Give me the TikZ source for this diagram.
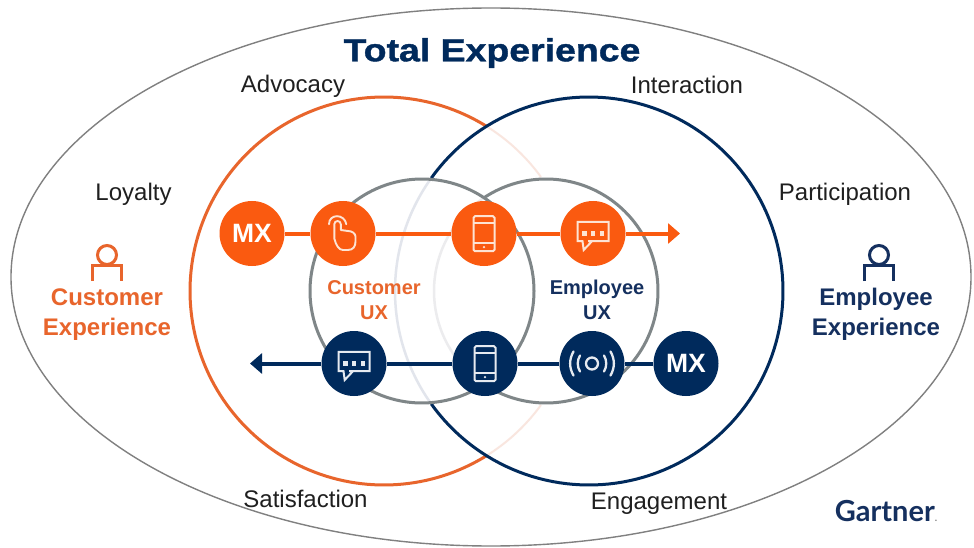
\documentclass[tikz,border=0pt]{standalone}
\usepackage{fontspec}
\setmainfont{Liberation Sans}
\newfontfamily\titlefont[FakeStretch=1.17,FakeBold=1.2]{Liberation Sans Bold}
\newfontfamily\logofont{Lato}
\usetikzlibrary{arrows.meta}
\definecolor{orangeNode}{HTML}{FA5A10}
\definecolor{orangeRing}{HTML}{E8652C}
\definecolor{orangeText}{HTML}{E8652C}
\definecolor{navyNode}{HTML}{002A5C}
\definecolor{navyText}{HTML}{15305F}
\definecolor{grayRing}{HTML}{7F8688}
\definecolor{fadeOrange}{HTML}{F9E6DF}
\definecolor{fadeNavy}{HTML}{E2E5EC}
\definecolor{fadeGray}{HTML}{ECECEE}
\definecolor{iconOrange}{HTML}{FDE3D3}
\definecolor{iconNavy}{HTML}{E6EAF0}
\newcommand{\ringarc}[6]{% style, cx, cy, r, from, to
  \draw[#1] plot[domain=#5:#6,samples=140] ({#2+#4*cos(\x)},{#3+#4*sin(\x)});}
\tikzset{
  x=1pt,y=-1pt,
  ring/.style={line width=3pt},
  dotnode/.style={circle,minimum size=65pt,inner sep=0pt,text=white,
    font=\bfseries\fontsize{26.5}{28}\selectfont},
  onode/.style={dotnode,fill=orangeNode},
  nnode/.style={dotnode,fill=navyNode},
  oline/.style={line width=4pt,draw=orangeNode},
  nline/.style={line width=4pt,draw=navyNode},
  label/.style={text=black!88,font=\fontsize{24}{28}\selectfont},
  bigo/.style={align=center,text=orangeText,font=\bfseries\fontsize{24}{30}\selectfont},
  bign/.style={align=center,text=navyText,font=\bfseries\fontsize{24}{30}\selectfont},
  smallo/.style={align=center,text=orangeText,font=\bfseries\fontsize{20}{24.5}\selectfont},
  smalln/.style={align=center,text=navyText,font=\bfseries\fontsize{20}{24.5}\selectfont},
  pics/phoneicon/.style={code={
    \draw[line width=2pt,rounded corners=1.5pt,draw=#1] (-10.5,-17.3) rectangle (10.5,17.7);
    \draw[line width=1.7pt,draw=#1] (-10.5,-10.7) -- (10.5,-10.7) (-10.5,9.3) -- (10.5,9.3);
    \fill[#1] (0,13.6) circle (1.3);
  }},
  pics/chaticon/.style={code={
    \draw[line width=2pt,draw=#1,line join=miter]
      (-5,7.7) -- (15.7,7.7) -- (15.7,-11.7) -- (-15.3,-11.7) -- (-15.3,7.7) -- (-10.5,7.7) -- (-9.3,16.5) -- (-1,7.7);
    \foreach \u in {-8.7,0,8.7} \fill[#1] (\u-2.2,-2.2) rectangle (\u+2.2,2.2);
  }},
  pics/handicon/.style={code={
    \draw[line width=1.9pt,draw=#1,line join=round]
      (-8.7,-9.3) -- (-8.7,5) .. controls (-7,12) and (-4,16.5) .. (0,16.5)
      -- (5,16.5) .. controls (10,16.5) and (12.5,13) .. (12.5,8)
      -- (12.5,3) .. controls (12.5,0) and (9,-2.5) .. (5,-2.5)
      -- (-2.2,-3.5) -- (-2.2,-9.3) .. controls (-2.2,-13.5) and (-8.7,-13.5) .. (-8.7,-9.3);
    \draw[line width=1.9pt,draw=#1,line cap=round]
      (-14,-9.3) .. controls (-14,-20) and (1.5,-20) .. (3.3,-9.3);
  }},
  pics/waveicon/.style={code={
    \draw[line width=2.3pt,draw=#1] (0,0) circle (6);
    \draw[line width=2.3pt,draw=#1,line cap=round]
      (-12,-8) .. controls (-15,-3) and (-15,3) .. (-12,8)
      (12,-8) .. controls (15,-3) and (15,3) .. (12,8)
      (-18.5,-12) .. controls (-23,-4) and (-23,4) .. (-18.5,12)
      (18.5,-12) .. controls (23,-4) and (23,4) .. (18.5,12);
  }},
  pics/personicon/.style={code={
    \draw[line width=3pt,draw=#1] (0,-9) circle (9.5);
    \draw[line width=3pt,draw=#1] (-14.5,17) -- (-14.5,1) -- (14.5,1) -- (14.5,17);
  }}
}
\begin{document}
\begin{tikzpicture}
\useasboundingbox (0,0) rectangle (974,548);
\fill[white] (0,0) rectangle (974,548);

% outer ellipse
\draw[line width=1.4pt,draw=black!50] (491,277) ellipse [x radius=480,y radius=269];

% faint parts of the rings
\ringarc{ring,line width=2pt,draw=fadeOrange}{384}{291}{194}{-58.2}{-36}
\ringarc{ring,line width=2pt,draw=fadeOrange}{384}{291}{194}{36}{58.2}
\ringarc{ring,line width=2.5pt,draw=fadeNavy}{589}{291}{194}{144.4}{215.6}
\ringarc{ring,line width=2.5pt,draw=fadeGray}{546}{291}{112}{123.7}{236.3}
% solid parts of the rings
\ringarc{ring,draw=orangeRing}{384}{291}{194}{58.2}{301.8}
\ringarc{ring,draw=navyNode}{589}{291}{194}{215.6}{504.4}
\ringarc{ring,draw=grayRing}{422}{291}{112}{0}{360}
\ringarc{ring,draw=grayRing}{546}{291}{112}{236.3}{483.7}

% nodes
\node[onode] (omx) at (252,233.5) {MX};
\node[onode] (ohand) at (343,233.5) {};
\node[onode] (ophone) at (484,233.5) {};
\node[onode] (ochat) at (593,233.5) {};
\coordinate (oend) at (680,233.5);
\node[nnode] (nmx) at (686,363.5) {MX};
\node[nnode] (nwave) at (592,363.5) {};
\node[nnode] (nphone) at (485,363.5) {};
\node[nnode] (nchat) at (354,363.5) {};
\coordinate (nend) at (250,363.5);

% connectors
\draw[oline] (omx) -- (ohand);
\draw[oline] (ohand) -- (ophone);
\draw[oline] (ophone) -- (ochat);
\draw[oline,-{Triangle[width=20pt,length=12pt]}] (ochat) -- (oend);
\draw[nline] (nmx) -- (nwave);
\draw[nline] (nwave) -- (nphone);
\draw[nline] (nphone) -- (nchat);
\draw[nline,-{Triangle[width=20pt,length=12pt]}] (nchat) -- (nend);

% icons
\pic at (ohand.center) {handicon=iconOrange};
\pic at (ophone.center) {phoneicon=iconOrange};
\pic at (ochat.center) {chaticon=iconOrange};
\pic at (nchat.center) {chaticon=iconNavy};
\pic at (nphone.center) {phoneicon=iconNavy};
\pic at (nwave.center) {waveicon=iconNavy};
\pic at (107,264) {personicon=orangeRing};
\pic at (879,264) {personicon=navyText};

% texts
\node[text=navyNode,font=\titlefont\fontsize{32}{36}\selectfont] (title) at (492,53) {Total Experience};
\node[label] (advocacy) at (293,86) {Advocacy};
\node[label] (interaction) at (687,85) {Interaction};
\node[label] (loyalty) at (133.5,194) {Loyalty};
\node[label] (participation) at (845,194) {Participation};
\node[label] (satisfaction) at (305.5,499) {Satisfaction};
\node[label] (engagement) at (659,504) {Engagement};
\node[bigo] (cx) at (107,315) {Customer\\Experience};
\node[bign] (ex) at (876,314) {Employee\\Experience};
\node[smallo] (cux) at (374,300) {Customer\\UX};
\node[smalln] (eux) at (597,300) {Employee\\UX};
\node[text=navyText,font=\logofont\bfseries\fontsize{29}{32}\selectfont,inner sep=0pt] (logo) at (886,511) {Gartner\textcolor{black!50}{\fontsize{10}{10}\selectfont.}};
\end{tikzpicture}
\end{document}
